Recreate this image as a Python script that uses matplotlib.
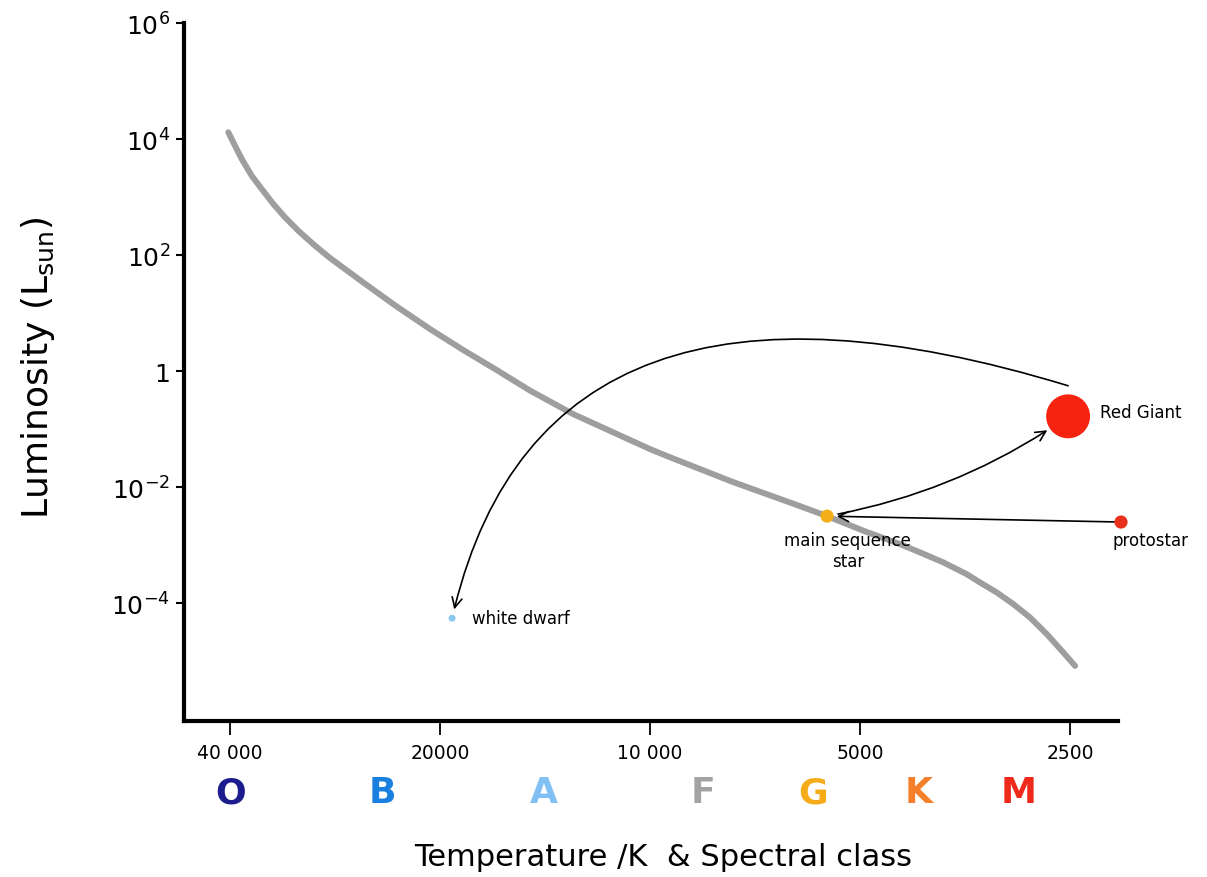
import matplotlib
matplotlib.use("Agg")
import matplotlib.pyplot as plt
from matplotlib.ticker import FixedLocator, FixedFormatter, NullLocator
from matplotlib.text import OffsetFrom

# ---------------- data ----------------
# main sequence curve (temperature K, luminosity L_sun)
ms_temp = [40225, 39347, 38484, 37237, 36027, 34671, 33361, 31928, 30216,
           28756, 25762, 23072, 20672, 18519, 16584, 14859, 12890, 11150,
           10000, 9450, 7600, 6095, 5575, 4886, 4381, 4101, 3798, 3516,
           3365, 3185, 3014, 2853, 2699, 2556, 2459]
ms_lum = [1.306e4, 7.66e3, 4.52e3, 2.33e3, 1.374e3, 757, 447, 262, 145,
          88.8, 33.6, 12.94, 5.30, 2.30, 1.04, 0.461, 0.1815, 0.082,
          0.0452, 0.0342, 0.0122, 0.0047, 0.00316, 0.001675, 1.04e-3,
          7.48e-4, 5.04e-4, 3.16e-4, 2.27e-4, 1.53e-4, 9.61e-5, 5.66e-5,
          2.92e-5, 1.41e-5, 8.3e-6]

# stars in the life cycle
star_names = ["protostar", "main sequence\nstar", "Red Giant", "white dwarf"]
star_temp = [2113, 5575, 2516, 19220]
star_lum = [2.5e-3, 3.16e-3, 0.166, 5.5e-5]
star_colors = ["#e8301c", "#f4ae1a", "#f5230f", "#8cc8f0"]

# evolution arrows (from index, to index)
transitions = [(0, 1), (1, 2), (2, 3)]

# axes ticks
x_ticks = [40000, 20000, 10000, 5000, 2500]
x_tick_labels = ["40 000", "20000", "10 000", "5000", "2500"]
y_ticks = [1e6, 1e4, 1e2, 1, 1e-2, 1e-4]
y_tick_labels = ["$10^{6}$", "$10^{4}$", "$10^{2}$", "$1$", "$10^{-2}$", "$10^{-4}$"]

# spectral classes and representative temperatures
spec_classes = ["O", "B", "A", "F", "G", "K", "M"]
spec_temps = [39900, 24230, 14180, 8400, 5834, 4115, 2958]
spec_colors = ["#1c1c8e", "#1a80e0", "#80c0f5", "#a3a3a3", "#f5ac18", "#f57f2a", "#f02a1a"]

# ---------------- styling ----------------
plt.rcParams['font.family'] = ['DejaVu Sans']
plt.rcParams['mathtext.default'] = 'regular'

fig = plt.figure(figsize=(12.07, 8.78), dpi=100)
ax = fig.add_axes([184 / 1207, 1 - 722 / 878, (1118 - 184) / 1207, (722 - 24) / 878])

ax.set_xscale('log')
ax.set_yscale('log')
ax.set_xlim(46565, 2134)
ax.set_ylim(9.3e-7, 1e6)

# main sequence
ax.plot(ms_temp, ms_lum, color='#9e9e9e', lw=4.3, solid_capstyle='round',
        solid_joinstyle='round', zorder=2)

# stars
sizes = [90, 90, 1000, 25]
ax.scatter(star_temp, star_lum, s=sizes, c=star_colors, zorder=4, clip_on=False,
           edgecolors='none')

# labels for stars
label_offsets = [(21, -13), (15, -25), (23, 3), (14, 0)]
label_ha = ["center", "center", "left", "left"]
for name, t, l, off, ha in zip(star_names, star_temp, star_lum, label_offsets, label_ha):
    ax.annotate(name, xy=(t, l), xytext=off, textcoords='offset points',
                ha=ha, va='center', fontsize=12, annotation_clip=False,
                multialignment='center')

# arrows
conn_styles = ['arc3,rad=0', 'arc3,rad=0.11', 'angle3,angleA=163,angleB=77']
start_offsets = [(0, 0), (0, 0), (0, 22)]
shrinks = [(0, 7), (8, 18), (0, 6.5)]
for (i, j), cs, so, (sa, sb) in zip(transitions, conn_styles, start_offsets, shrinks):
    ax.annotate('', xy=(star_temp[j], star_lum[j]), xycoords='data',
                xytext=so,
                textcoords=OffsetFrom(ax.transData, (star_temp[i], star_lum[i]),
                                      unit='points'),
                arrowprops=dict(arrowstyle='->', color='black', lw=1.2,
                                shrinkA=sa, shrinkB=sb, mutation_scale=18,
                                connectionstyle=cs),
                annotation_clip=False, zorder=3)

# spines
for s in ['top', 'right']:
    ax.spines[s].set_visible(False)
for s in ['left', 'bottom']:
    ax.spines[s].set_linewidth(3)

ax.xaxis.set_major_locator(FixedLocator(x_ticks))
ax.xaxis.set_major_formatter(FixedFormatter(x_tick_labels))
ax.xaxis.set_minor_locator(NullLocator())
ax.yaxis.set_major_locator(FixedLocator(y_ticks))
ax.yaxis.set_major_formatter(FixedFormatter(y_tick_labels))
ax.yaxis.set_minor_locator(NullLocator())

ax.tick_params(axis='x', direction='out', length=10, width=1.3, pad=6, labelsize=13.5)
ax.tick_params(axis='y', direction='out', length=6, width=1.5, pad=4, labelsize=18)

# spectral classes
trans = ax.get_xaxis_transform()
for c, t, col in zip(spec_classes, spec_temps, spec_colors):
    ax.text(t, -0.102, c, transform=trans, ha='center', va='center',
            fontsize=26, fontweight='bold', color=col, clip_on=False)

# axis titles
fig.text(663 / 1207, 1 - 858 / 878, "Temperature /K  & Spectral class",
         ha='center', va='center', fontsize=22)
fig.text(38 / 1207, 1 - 368 / 878, "Luminosity (L$_{sun}$)", rotation=90,
         ha='center', va='center', fontsize=26)

fig.savefig("out.png", dpi=100)
